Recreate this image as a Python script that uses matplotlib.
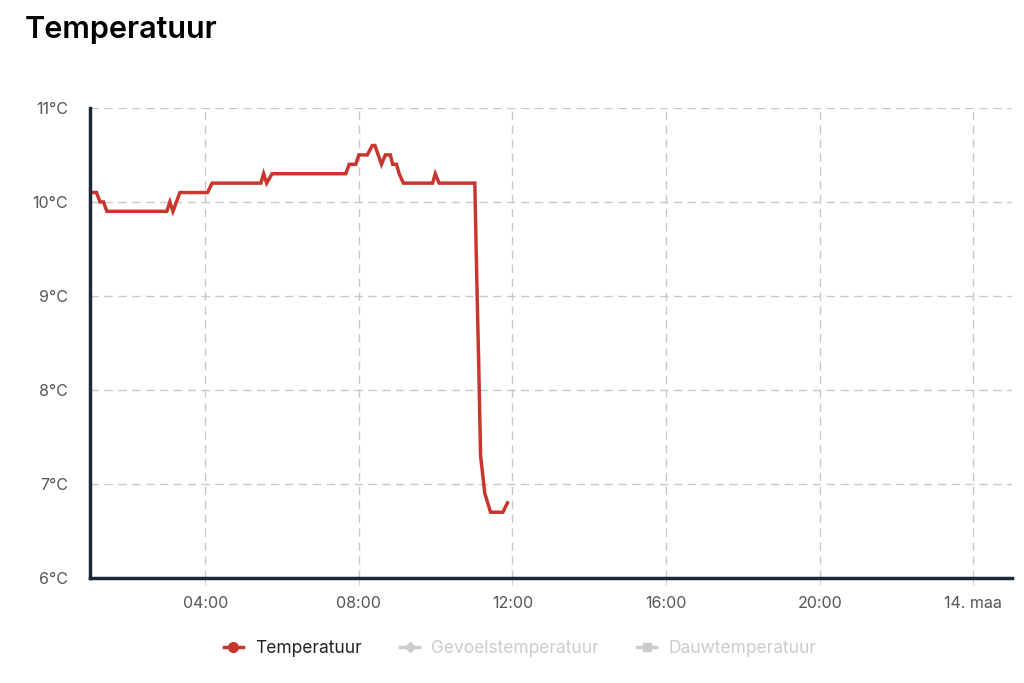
import matplotlib.pyplot as plt
from matplotlib.lines import Line2D

# time in hours since midnight (13 maa), temperature in degrees C
hours = [1.00, 1.17, 1.26, 1.35, 1.44, 3.00, 3.08, 3.16, 3.34, 4.06, 4.18,
         5.45, 5.52, 5.60, 5.74, 7.66, 7.75, 7.92, 8.00, 8.22, 8.35, 8.42,
         8.59, 8.69, 8.82, 8.88, 8.98, 9.05, 9.16, 9.92, 9.99, 10.09, 11.02,
         11.07, 11.12, 11.17, 11.28, 11.43, 11.75, 11.87]
temps = [10.1, 10.1, 10.0, 10.0, 9.9, 9.9, 10.0, 9.9, 10.1, 10.1, 10.2,
         10.2, 10.3, 10.2, 10.3, 10.3, 10.4, 10.4, 10.5, 10.5, 10.6, 10.6,
         10.4, 10.5, 10.5, 10.4, 10.4, 10.3, 10.2, 10.2, 10.3, 10.2, 10.2,
         9.2, 8.3, 7.3, 6.9, 6.7, 6.7, 6.8]

xticks = [4, 8, 12, 16, 20, 24]
xtick_labels = ['04:00', '08:00', '12:00', '16:00', '20:00', '14. maa']
yticks = [6, 7, 8, 9, 10, 11]
ytick_labels = [f'{t}°C' for t in yticks]
series = ['Temperatuur', 'Gevoelstemperatuur', 'Dauwtemperatuur']

plt.rcParams['font.family'] = ['Inter', 'DejaVu Sans']

red = '#c8372d'
grey = '#cccccc'
axis_col = '#1c2a38'

fig = plt.figure(figsize=(10.24, 6.83), dpi=100)
ax = fig.add_axes([0.0879, 0.1537, 0.9001, 0.6883])

ax.plot(hours, temps, color=red, linewidth=2.5, solid_joinstyle='miter')

ax.set_xlim(1, 25)
ax.set_ylim(6, 11)
ax.set_xticks(xticks)
ax.set_xticklabels(xtick_labels)
ax.set_yticks(yticks)
ax.set_yticklabels(ytick_labels)
ax.tick_params(axis='x', length=5, color='#d0d0d0', labelsize=11.5,
               labelcolor='#555555', pad=8)
ax.tick_params(axis='y', length=0, labelsize=11.5, labelcolor='#555555', pad=16)

ax.grid(True, color='#c8c8c8', linestyle=(0, (6, 4)), linewidth=1)
ax.set_axisbelow(True)
for s in ['top', 'right']:
    ax.spines[s].set_visible(False)
for s in ['left', 'bottom']:
    ax.spines[s].set_color(axis_col)
    ax.spines[s].set_linewidth(2.5)

fig.text(0.024, 0.956, 'Temperatuur', fontsize=22, fontweight='semibold',
         color='#000000', va='center', ha='left')

handles = [
    Line2D([], [], color=red, marker='o', markersize=7, linewidth=2.5),
    Line2D([], [], color=grey, marker='D', markersize=5, linewidth=2.5),
    Line2D([], [], color=grey, marker='s', markersize=6, linewidth=2.5),
]
leg = fig.legend(handles, series, loc='center', bbox_to_anchor=(0.508, 0.051),
                 ncol=3, frameon=False, fontsize=12.5, handlelength=1.1,
                 handletextpad=0.7, columnspacing=2.2)
for txt, c in zip(leg.get_texts(), ['#222222', grey, grey]):
    txt.set_color(c)

fig.savefig('out.png', dpi=100)
